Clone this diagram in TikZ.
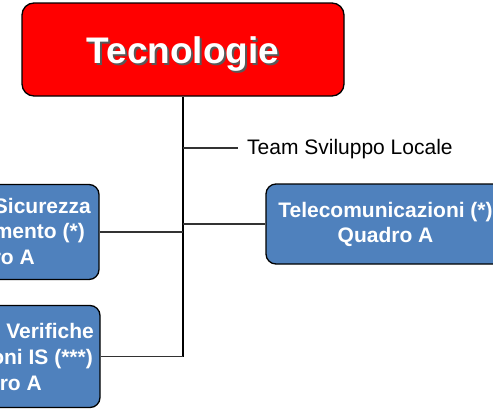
\documentclass[tikz,border=0pt]{standalone}
\usepackage{fontspec}
\setmainfont{Liberation Sans}
\definecolor{boxblue}{RGB}{79,129,189}
\definecolor{linegray}{RGB}{50,50,50}

\begin{document}
\begin{tikzpicture}[x=1pt, y=-1pt,
  bluebox/.style={draw=black, line width=1.3pt, fill=boxblue, rounded corners=10pt, inner sep=0pt,
    text=white, align=center, font=\bfseries\fontsize{21}{25}\selectfont},
  frag/.style={anchor=base east, inner sep=0pt, text=white, font=\bfseries\fontsize{21}{25}\selectfont},
  link/.style={draw=linegray, line width=1.3pt}]
  \useasboundingbox (0,0) rectangle (493,408);
  \clip (0,0) rectangle (493,408);
  % head box
  \node[draw=black, line width=1.3pt, fill=red, rounded corners=12pt, minimum width=322pt, minimum height=93pt] (tec) at (183,49.5) {};
  \node[anchor=base, text=black!65, font=\bfseries\fontsize{37}{40}\selectfont] (tecshadow) at (185,65) {Tecnologie};
  \node[anchor=base, text=white, font=\bfseries\fontsize{37}{40}\selectfont] (tectext) at (183,63) {Tecnologie};
  % units
  \node[bluebox, minimum width=238pt, minimum height=95pt] (sic) at (-20,232) {};
  \node[frag] (sic1) at (91,213) {Sicurezza};
  \node[frag] (sic2) at (85,238.5) {mento (*)};
  \node[frag] (sic3) at (35,264) {ro A};
  \node[bluebox, minimum width=238pt, minimum height=102pt] (ver) at (-19,356.5) {};
  \node[frag] (ver1) at (94,338) {Verifiche};
  \node[frag] (ver2) at (93,364.5) {oni IS (***)};
  \node[frag] (ver3) at (42,390) {ro A};
  \node[bluebox, minimum width=239pt, minimum height=80pt] (tlc) at (385.5,224) {Telecomunicazioni (*)\\Quadro A};
  % staff
  \node[anchor=base west, inner sep=0pt, font=\fontsize{21}{25}\selectfont] (team) at (247,154.5) {Team Sviluppo Locale};
  \coordinate (t1) at (183,148);
  \coordinate (t2) at (238,148);
  % connectors
  \draw[link, draw=black] (tec.south) -- (ver.east -| tec.south);
  \draw[link] (t1) -- (t2);
  \draw[link] (sic.east) -- (sic.east -| tec.south);
  \draw[link] (ver.east) -- (ver.east -| tec.south);
  \draw[link] (tlc.west) -- (tlc.west -| tec.south);
\end{tikzpicture}
\end{document}
